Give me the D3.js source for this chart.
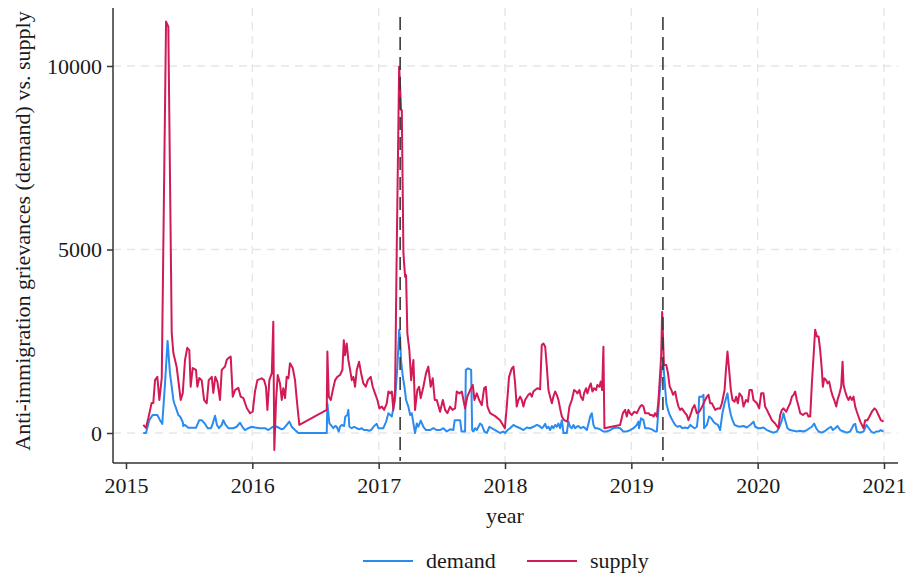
<!DOCTYPE html>
<html>
<head>
<meta charset="utf-8">
<script src="https://cdn.jsdelivr.net/npm/d3@7/dist/d3.min.js"></script>
<style>
  body { margin: 0; background: #ffffff; }
  svg { display: block; }
  text { font-family: "Liberation Serif", "Times New Roman", serif; fill: #1a1a1a; }
</style>
</head>
<body>
<svg id="chart" width="909" height="576"></svg>
<script>
// Weekly counts of anti-immigration grievances (demand) and supply
const demandYear = [
  2015.137,2015.158,2015.184,2015.211,2015.248,2015.269,2015.287,2015.309,2015.329,2015.348,
  2015.375,2015.382,2015.401,2015.414,2015.428,2015.449,2015.454,2015.467,2015.493,2015.530,
  2015.554,2015.580,2015.599,2015.623,2015.647,2015.673,2015.683,2015.705,2015.720,2015.736,
  2015.758,2015.770,2015.789,2015.810,2015.850,2015.876,2015.903,2015.921,2015.942,2015.968,
  2015.995,2016.021,2016.061,2016.101,2016.127,2016.154,2016.180,2016.206,2016.233,2016.251,
  2016.272,2016.293,2016.312,2016.338,2016.364,2016.589,2016.594,2016.610,2016.628,2016.641,
  2016.655,2016.668,2016.684,2016.694,2016.708,2016.726,2016.736,2016.752,2016.760,2016.768,
  2016.787,2016.805,2016.827,2016.847,2016.866,2016.884,2016.906,2016.926,2016.945,2016.964,
  2016.985,2016.998,2017.017,2017.037,2017.059,2017.077,2017.104,2017.116,2017.130,2017.148,
  2017.162,2017.169,2017.177,2017.191,2017.204,2017.217,2017.235,2017.249,2017.262,2017.275,
  2017.288,2017.302,2017.314,2017.333,2017.354,2017.375,2017.407,2017.433,2017.460,2017.486,
  2017.512,2017.539,2017.565,2017.591,2017.602,2017.645,2017.656,2017.684,2017.690,2017.708,
  2017.732,2017.740,2017.750,2017.763,2017.777,2017.803,2017.816,2017.837,2017.856,2017.877,
  2017.895,2017.922,2017.961,2017.985,2017.999,2018.020,2018.040,2018.067,2018.093,2018.120,
  2018.146,2018.173,2018.199,2018.225,2018.252,2018.273,2018.291,2018.304,2018.318,2018.331,
  2018.344,2018.357,2018.371,2018.383,2018.397,2018.410,2018.423,2018.436,2018.450,2018.463,
  2018.489,2018.502,2018.515,2018.529,2018.542,2018.555,2018.568,2018.581,2018.600,2018.621,
  2018.634,2018.648,2018.661,2018.674,2018.687,2018.700,2018.713,2018.731,2018.753,2018.779,
  2018.806,2018.832,2018.858,2018.884,2018.911,2018.937,2018.964,2018.990,2019.017,2019.043,
  2019.056,2019.061,2019.077,2019.096,2019.109,2019.136,2019.163,2019.188,2019.202,2019.220,
  2019.241,2019.254,2019.267,2019.277,2019.290,2019.304,2019.317,2019.331,2019.347,2019.365,
  2019.386,2019.404,2019.426,2019.448,2019.467,2019.484,2019.500,2019.519,2019.532,2019.537,
  2019.558,2019.571,2019.576,2019.598,2019.616,2019.633,2019.650,2019.664,2019.685,2019.703,
  2019.721,2019.738,2019.761,2019.774,2019.788,2019.801,2019.817,2019.836,2019.856,2019.888,
  2019.914,2019.941,2019.967,2019.980,2020.006,2020.019,2020.046,2020.073,2020.099,2020.125,
  2020.152,2020.173,2020.192,2020.204,2020.218,2020.236,2020.257,2020.284,2020.310,2020.337,
  2020.363,2020.390,2020.410,2020.429,2020.447,2020.463,2020.482,2020.508,2020.527,2020.543,
  2020.561,2020.580,2020.595,2020.614,2020.632,2020.653,2020.680,2020.706,2020.732,2020.759,
  2020.772,2020.785,2020.812,2020.838,2020.861,2020.880,2020.899,2020.920,2020.938,2020.956,
  2020.975,2020.996
];
const demandValue = [
  0,0,350,490,490,350,250,1360,2510,1630,
  900,810,630,490,450,300,190,220,140,140,
  140,350,350,260,130,130,220,470,220,130,
  220,350,220,130,130,170,280,170,80,130,
  170,150,130,130,80,150,190,150,100,130,
  220,310,170,80,0,0,810,260,190,130,
  190,170,40,170,220,190,450,490,630,170,
  130,170,130,100,130,80,80,60,100,190,
  250,130,130,130,310,540,450,670,900,1810,
  2810,2630,1990,1540,1260,900,720,490,540,260,
  0,260,170,340,170,80,80,130,80,80,
  130,40,100,80,350,350,40,40,1720,1760,
  1720,80,40,130,80,260,220,40,0,170,
  130,80,0,40,0,80,130,220,170,130,
  80,150,130,170,220,190,130,170,250,130,
  170,80,190,130,220,170,260,130,350,0,
  0,310,170,130,220,130,170,190,130,170,
  130,80,260,450,540,220,130,130,100,40,
  40,80,130,150,130,40,40,80,130,220,
  310,130,400,350,130,130,100,40,40,900,
  1810,1850,1260,810,630,490,400,310,220,170,
  190,130,150,130,220,170,130,170,580,990,
  990,1040,130,220,450,400,310,260,220,80,
  540,810,1080,720,490,350,220,190,170,190,
  150,220,310,170,130,130,150,80,40,10,
  40,170,350,540,350,130,80,60,40,60,
  40,80,130,170,260,130,40,10,40,80,
  130,170,80,130,190,80,40,10,40,220,
  250,40,10,40,220,130,40,0,40,40,
  80,40
];
const supplyYear = [
  2015.137,2015.158,2015.177,2015.203,2015.216,2015.230,2015.248,2015.264,2015.283,2015.317,
  2015.335,2015.362,2015.375,2015.401,2015.433,2015.449,2015.467,2015.485,2015.501,2015.512,
  2015.528,2015.554,2015.565,2015.580,2015.599,2015.618,2015.639,2015.655,2015.679,2015.691,
  2015.707,2015.723,2015.744,2015.758,2015.784,2015.797,2015.810,2015.829,2015.845,2015.863,
  2015.889,2015.908,2015.929,2015.956,2015.982,2016.003,2016.021,2016.040,2016.074,2016.093,
  2016.108,2016.119,2016.135,2016.154,2016.166,2016.174,2016.188,2016.201,2016.219,2016.233,
  2016.245,2016.259,2016.272,2016.285,2016.298,2016.320,2016.338,2016.352,2016.372,2016.589,
  2016.594,2016.605,2016.621,2016.637,2016.655,2016.673,2016.694,2016.713,2016.724,2016.734,
  2016.747,2016.760,2016.774,2016.787,2016.800,2016.813,2016.827,2016.845,2016.861,2016.879,
  2016.898,2016.914,2016.937,2016.953,2016.971,2016.990,2017.006,2017.025,2017.043,2017.064,
  2017.077,2017.090,2017.104,2017.116,2017.130,2017.143,2017.162,2017.169,2017.177,2017.183,
  2017.196,2017.209,2017.217,2017.227,2017.243,2017.257,2017.275,2017.288,2017.306,2017.320,
  2017.333,2017.354,2017.375,2017.393,2017.412,2017.428,2017.444,2017.460,2017.486,2017.508,
  2017.526,2017.544,2017.565,2017.584,2017.605,2017.618,2017.639,2017.658,2017.671,2017.684,
  2017.702,2017.724,2017.745,2017.758,2017.777,2017.795,2017.816,2017.835,2017.848,2017.861,
  2017.882,2017.922,2017.961,2017.999,2018.014,2018.032,2018.054,2018.067,2018.080,2018.093,
  2018.106,2018.120,2018.133,2018.146,2018.159,2018.185,2018.199,2018.212,2018.225,2018.238,
  2018.257,2018.278,2018.291,2018.304,2018.318,2018.331,2018.344,2018.357,2018.371,2018.383,
  2018.397,2018.410,2018.423,2018.436,2018.450,2018.468,2018.494,2018.510,2018.529,2018.547,
  2018.563,2018.573,2018.589,2018.600,2018.616,2018.626,2018.642,2018.652,2018.668,2018.679,
  2018.692,2018.705,2018.721,2018.731,2018.747,2018.758,2018.769,2018.779,2018.787,2018.911,
  2018.933,2018.951,2018.964,2018.977,2018.990,2019.004,2019.022,2019.043,2019.056,2019.070,
  2019.083,2019.096,2019.109,2019.136,2019.149,2019.163,2019.176,2019.188,2019.202,2019.215,
  2019.236,2019.244,2019.258,2019.277,2019.290,2019.304,2019.317,2019.331,2019.347,2019.360,
  2019.373,2019.386,2019.400,2019.426,2019.439,2019.452,2019.473,2019.484,2019.500,2019.519,
  2019.537,2019.553,2019.566,2019.584,2019.598,2019.611,2019.624,2019.638,2019.650,2019.664,
  2019.685,2019.703,2019.717,2019.738,2019.749,2019.761,2019.774,2019.788,2019.801,2019.817,
  2019.830,2019.843,2019.856,2019.875,2019.888,2019.907,2019.923,2019.935,2019.954,2019.967,
  2019.994,2020.012,2020.028,2020.046,2020.059,2020.073,2020.086,2020.099,2020.112,2020.138,
  2020.165,2020.178,2020.192,2020.204,2020.226,2020.244,2020.257,2020.271,2020.284,2020.297,
  2020.310,2020.324,2020.337,2020.358,2020.376,2020.390,2020.402,2020.416,2020.429,2020.447,
  2020.455,2020.469,2020.482,2020.495,2020.508,2020.516,2020.527,2020.543,2020.553,2020.566,
  2020.580,2020.595,2020.606,2020.622,2020.632,2020.648,2020.661,2020.672,2020.680,2020.693,
  2020.706,2020.719,2020.732,2020.746,2020.759,2020.772,2020.785,2020.798,2020.812,2020.825,
  2020.838,2020.851,2020.869,2020.885,2020.904,2020.925,2020.938,2020.956,2020.975,2020.996
];
const supplyValue = [
  220,140,410,820,820,1440,1530,900,1500,11210,
  11070,2720,2180,1800,900,1080,1990,2320,2260,1260,
  1770,1720,1260,1500,1440,900,810,1440,1530,1090,
  1530,1400,900,1720,1810,1990,2040,2080,990,1170,
  1230,990,950,680,540,580,1130,1440,1490,1440,
  1260,630,1440,1630,3030,-460,900,1580,1350,900,
  1220,950,1530,1490,1900,1770,1440,900,220,630,
  2220,990,900,1170,1440,1530,1580,1720,2530,2120,
  2440,1990,1720,1440,1530,1260,1720,1940,1630,1350,
  1260,1440,1530,1260,1080,900,670,720,630,810,
  1130,1080,1130,630,1170,4990,9980,9530,8800,8800,
  4900,4260,4300,2720,2260,1440,1990,630,1170,1260,
  950,1260,1630,1810,1260,1490,900,900,580,900,
  630,540,720,630,670,1130,1080,1130,900,670,
  990,1170,1310,900,1080,900,760,1220,1260,720,
  540,460,350,130,720,1530,1760,1810,1350,720,
  900,990,900,720,900,1040,1080,990,1130,1170,
  1220,1190,2400,2440,2350,1810,1170,990,810,990,
  1130,1040,900,670,450,350,310,720,900,1170,
  1130,1080,1170,990,900,1080,1220,1080,1260,1350,
  1130,1220,1170,1310,1260,1400,1170,2350,130,220,
  540,630,450,630,540,490,580,540,630,720,
  760,720,540,540,490,490,450,540,450,900,
  2080,3300,1850,1850,1630,1260,1170,1040,1130,900,
  720,630,670,540,490,350,540,670,760,540,
  580,670,760,900,990,1040,810,810,720,630,
  670,670,810,1170,1720,2220,1720,1170,900,850,
  990,810,1080,990,720,900,850,1170,1170,900,
  810,670,1080,1080,720,630,540,450,350,260,
  130,490,630,670,580,720,810,990,1040,1130,
  900,720,540,490,540,540,450,450,1350,2350,
  2810,2630,2630,2260,1720,1260,1490,1440,1350,1400,
  1170,990,900,720,900,1080,1260,1940,1310,1130,
  990,900,990,900,990,720,580,450,310,220,
  130,350,350,450,580,670,630,490,350,310
];
const xTicks = [2015, 2016, 2017, 2018, 2019, 2020, 2021];
const yTicks = [0, 5000, 10000];
const eventYears = [2017.17, 2019.25];
const seriesNames = ["demand", "supply"];
const seriesColors = ["#2a8bf0", "#d21a55"];
const xTitle = "year";
const yTitle = "Anti-immigration grievances (demand) vs. supply";

const svg = d3.select("#chart");

const x = d3.scaleLinear().domain([2015, 2021]).range([126, 884]);
const y = d3.scaleLinear().domain([0, 10000]).range([433, 66]);

const axisY = 463;      // bottom axis position
const axisX = 113;      // left axis position
const plotTop = 8;
const plotRight = 898;
const fontSize = 22;

// dashed grid (no vertical rule on the first year, it sits near the axis)
const grid = svg.append("g");
grid.selectAll("line.vg").data(xTicks.slice(1)).join("line")
  .attr("x1", d => x(d)).attr("x2", d => x(d))
  .attr("y1", plotTop).attr("y2", axisY)
  .attr("stroke", "#e6e6e6").attr("stroke-width", 1.4)
  .attr("stroke-dasharray", "8,6");
grid.selectAll("line.hg").data(yTicks).join("line")
  .attr("x1", axisX).attr("x2", plotRight)
  .attr("y1", d => y(d)).attr("y2", d => y(d))
  .attr("stroke", "#e6e6e6").attr("stroke-width", 1.4)
  .attr("stroke-dasharray", "8,6");

// series lines
const demand = demandYear.map((t, i) => [t, demandValue[i]]);
const supply = supplyYear.map((t, i) => [t, supplyValue[i]]);
const line = d3.line().x(d => x(d[0])).y(d => y(d[1]));

svg.append("path").datum(demand)
  .attr("d", line).attr("fill", "none")
  .attr("stroke", seriesColors[0]).attr("stroke-width", 2)
  .attr("stroke-linejoin", "round");
svg.append("path").datum(supply)
  .attr("d", line).attr("fill", "none")
  .attr("stroke", seriesColors[1]).attr("stroke-width", 2)
  .attr("stroke-linejoin", "round");

// event markers
svg.selectAll("line.ev").data(eventYears).join("line")
  .attr("x1", d => x(d)).attr("x2", d => x(d))
  .attr("y1", 17).attr("y2", 461)
  .attr("stroke", "#3a3a3a").attr("stroke-width", 1.6)
  .attr("stroke-dasharray", "13,7");

// axes
const xAxis = d3.axisBottom(x).tickValues(xTicks).tickFormat(d3.format("d"))
  .tickSize(6).tickPadding(8);
const gx = svg.append("g").attr("transform", `translate(0,${axisY})`).call(xAxis);
gx.select(".domain").attr("d", `M${axisX},0H${plotRight}`);

const yAxis = d3.axisLeft(y).tickValues(yTicks).tickFormat(d3.format("d"))
  .tickSize(6).tickPadding(5);
const gy = svg.append("g").attr("transform", `translate(${axisX},0)`).call(yAxis);
gy.select(".domain").attr("d", `M0,${plotTop}V${axisY}`);

[gx, gy].forEach(g => {
  g.select(".domain").attr("stroke", "#333").attr("stroke-width", 1.5);
  g.selectAll(".tick line").attr("stroke", "#333").attr("stroke-width", 1.5);
  g.selectAll(".tick text")
    .attr("font-family", "'Liberation Serif', 'Times New Roman', serif")
    .attr("font-size", fontSize).attr("fill", "#1a1a1a");
});

// axis titles
svg.append("text").attr("x", x(2018)).attr("y", 523)
  .attr("text-anchor", "middle").attr("font-size", fontSize).text(xTitle);
svg.append("text")
  .attr("transform", "translate(30,231) rotate(-90)")
  .attr("text-anchor", "middle").attr("font-size", fontSize).text(yTitle);

// legend
const legend = svg.append("g");
const legendX = [363, 527];
seriesNames.forEach((name, i) => {
  legend.append("line")
    .attr("x1", legendX[i]).attr("x2", legendX[i] + 50)
    .attr("y1", 561).attr("y2", 561)
    .attr("stroke", seriesColors[i]).attr("stroke-width", 2);
  legend.append("text")
    .attr("x", legendX[i] + 63).attr("y", 568)
    .attr("font-size", fontSize).text(name);
});
</script>
</body>
</html>
